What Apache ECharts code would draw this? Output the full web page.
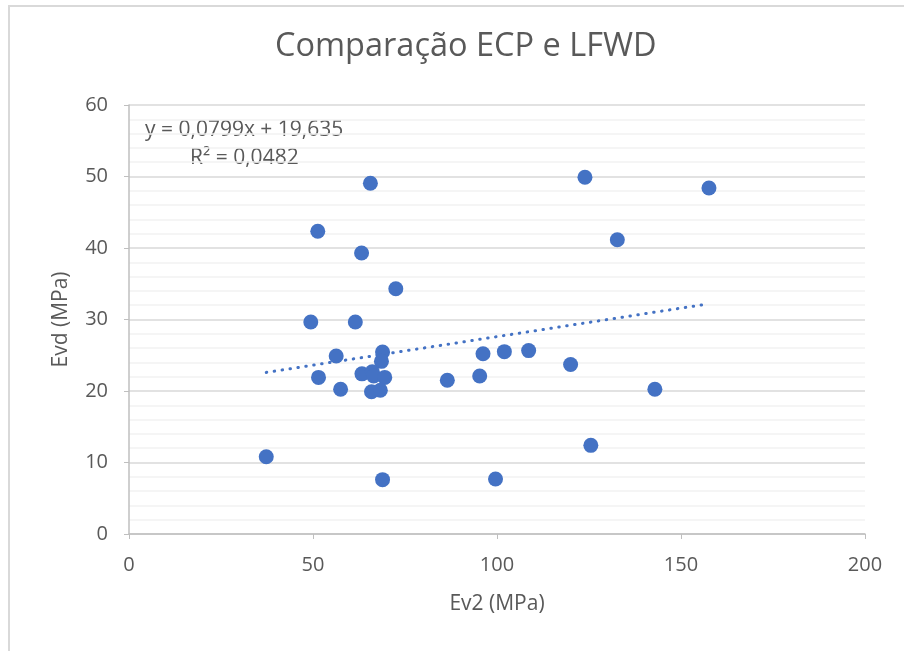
<!DOCTYPE html>
<html>
<head>
<meta charset="utf-8">
<script src="https://cdn.jsdelivr.net/npm/echarts@6/dist/echarts.min.js"></script>
<style>
  html, body { margin: 0; padding: 0; background: #fff; overflow: hidden; }
  #frame { position: absolute; left: 8px; top: 5px; width: 1000px; height: 800px; border: 2px solid #d9d9d9; box-sizing: border-box; }
  #chart { position: absolute; left: 0; top: 0; width: 904px; height: 651px; }
</style>
</head>
<body>
<div id="frame"></div>
<div id="chart"></div>
<script>
// Ev2 (MPa) vs Evd (MPa)
const ev2 = [49.4, 61.5, 56.3, 68.9, 68.6, 96.2, 102.0, 108.6, 51.5, 63.3,
             66.1, 66.5, 69.5, 86.5, 95.3, 57.5, 65.9, 68.3, 37.3, 68.9,
             99.6, 65.6, 51.3, 63.2, 72.5, 123.9, 157.6, 132.7, 120.0, 142.9, 125.5]
const evd = [29.65, 29.65, 24.9, 25.45, 24.15, 25.2, 25.5, 25.65, 21.9, 22.4,
             22.7, 22.1, 21.9, 21.5, 22.1, 20.25, 19.9, 20.1, 10.8, 7.6,
             7.7, 49.05, 42.35, 39.3, 34.3, 49.9, 48.4, 41.15, 23.7, 20.25, 12.4]
// linear trendline end points
const trendX = [37.3, 157.6]
const trendY = [22.6, 32.2]
const xTicks = [0, 50, 100, 150, 200]
const yTicks = [0, 10, 20, 30, 40, 50, 60]

const FONT = 'Open Sans'
const GREY = '#595959'
const BLUE = '#4472c4'

const chart = echarts.init(document.getElementById('chart'), null, { renderer: 'canvas' })
chart.setOption({
  animation: false,
  backgroundColor: 'transparent',
  textStyle: { fontFamily: FONT },
  title: {
    text: 'Comparação ECP e LFWD', left: 270, top: 25,
    textStyle: { fontFamily: FONT, fontSize: 32.5, fontWeight: 'normal', color: GREY },
  },
  grid: { left: 129, right: 39, top: 105, bottom: 117 },
  xAxis: {
    type: 'value', min: xTicks[0], max: xTicks[xTicks.length - 1], interval: 50,
    name: 'Ev2 (MPa)', nameLocation: 'middle', nameGap: 60,
    nameTextStyle: { fontFamily: FONT, fontSize: 21, color: GREY },
    axisLine: { show: true, lineStyle: { color: '#bfbfbf', width: 1.5 } },
    axisTick: { show: true, length: 5, lineStyle: { color: '#bfbfbf' } },
    axisLabel: { fontFamily: FONT, fontSize: 20, color: GREY, margin: 21 },
    splitLine: { show: false },
  },
  yAxis: {
    type: 'value', min: yTicks[0], max: yTicks[yTicks.length - 1], interval: 10,
    name: 'Evd (MPa)', nameLocation: 'middle', nameGap: 57, nameRotate: 90,
    nameTextStyle: { fontFamily: FONT, fontSize: 21, color: GREY },
    axisLine: { show: true, lineStyle: { color: '#bfbfbf', width: 1.5 } },
    axisTick: { show: true, length: 5, lineStyle: { color: '#bfbfbf' } },
    axisLabel: { fontFamily: FONT, fontSize: 20, color: GREY, margin: 21 },
    splitLine: { show: true, lineStyle: { color: '#d9d9d9', width: 1.5 } },
    minorTick: { show: false, splitNumber: 5 },
    minorSplitLine: { show: true, lineStyle: { color: '#f2f2f2', width: 1.5 } },
  },
  graphic: [
    { type: 'text', left: 145, top: 120, style: { text: 'y = 0,0799x + 19,635', font: '21px "Open Sans"', fill: GREY } },
    { type: 'text', left: 190, top: 148, style: { text: 'R² = 0,0482', font: '21px "Open Sans"', fill: GREY } },
  ],
  series: [
    {
      type: 'line', data: trendX.map((x, i) => [x, trendY[i]]), symbol: 'none', z: 1,
      lineStyle: { color: BLUE, width: 3, type: [0.5, 7.5], cap: 'round' },
    },
    {
      type: 'scatter', data: ev2.map((x, i) => [x, evd[i]]), symbolSize: 15, z: 2,
      itemStyle: { color: BLUE, opacity: 1 },
    },
  ],
})
</script>
</body>
</html>
